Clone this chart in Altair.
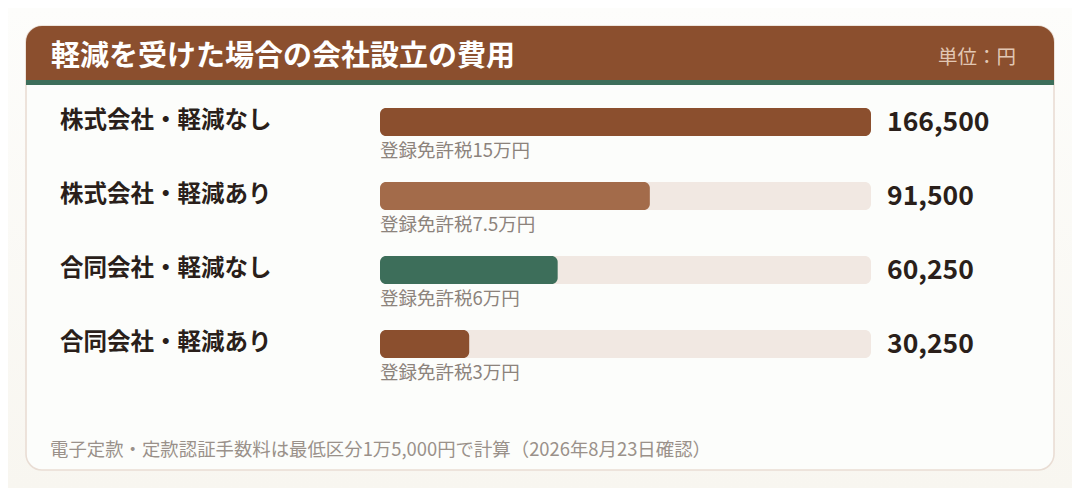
import altair as alt
import pandas as pd

# ---- data ----
categories = ["株式会社・軽減なし", "株式会社・軽減あり", "合同会社・軽減なし", "合同会社・軽減あり"]
values = [166500, 91500, 60250, 30250]
sub_labels = ["登録免許税15万円", "登録免許税7.5万円", "登録免許税6万円", "登録免許税3万円"]
bar_colors = ["#8B4F2E", "#A36B4A", "#3D6E5A", "#8B4F2E"]
title_text = "軽減を受けた場合の会社設立の費用"
unit_text = "単位：円"
footer_text = "電子定款・定款認証手数料は最低区分1万5,000円で計算（2026年8月23日確認）"

max_val = max(values)
FONT = "Noto Sans CJK JP"

df = pd.DataFrame({
    "cat": categories,
    "value": values,
    "sub": sub_labels,
    "color": bar_colors,
    "zero": [0] * len(values),
    "max": [max_val] * len(values),
})
one = pd.DataFrame({"d": [0]})

W, H = 1064, 480

xs = alt.Scale(domain=[0, max_val], range=[372, 863])
ys = alt.Scale(domain=categories, range=[77, 373], paddingInner=1 - 28 / 74, paddingOuter=(1 - 28 / 74) / 2)
Y = alt.Y("cat:N", scale=ys, axis=None, sort=categories)

deco = alt.Chart(one)

bg = deco.mark_rect(
    color=alt.Gradient(
        gradient="linear",
        stops=[alt.GradientStop(color="#FDFDFB", offset=0), alt.GradientStop(color="#F8F6F0", offset=1)],
        x1=0, x2=0, y1=0, y2=1,
    )
).encode(x=alt.value(0), x2=alt.value(W), y=alt.value(0), y2=alt.value(H))

card = deco.mark_rect(
    fill="#FCFDFB", stroke="#E9DDD4", strokeWidth=1.6, cornerRadius=16
).encode(x=alt.value(18), x2=alt.value(1046), y=alt.value(18), y2=alt.value(462))

header = deco.mark_rect(
    color="#8B4F2E", cornerRadiusTopLeft=16, cornerRadiusTopRight=16
).encode(x=alt.value(18), x2=alt.value(1046), y=alt.value(18), y2=alt.value(72))

stripe = deco.mark_rect(color="#3D6E5A").encode(
    x=alt.value(18), x2=alt.value(1046), y=alt.value(72), y2=alt.value(77)
)

title = deco.mark_text(
    text=title_text, font=FONT, fontSize=29, fontWeight="bold", color="#FFFFFF",
    align="left", baseline="middle"
).encode(x=alt.value(43), y=alt.value(49))

unit = deco.mark_text(
    text=unit_text, font=FONT, fontSize=19.5, color="#E2C7B4", align="right", baseline="middle"
).encode(x=alt.value(1008), y=alt.value(50))

base = alt.Chart(df)

track = base.mark_bar(cornerRadius=6, color="#F1E8E2").encode(
    x=alt.X("zero:Q", scale=xs, axis=None), x2="max:Q", y=Y
)

bars = base.mark_bar(cornerRadius=6).encode(
    x=alt.X("zero:Q", scale=xs, axis=None), x2="value:Q", y=Y,
    color=alt.Color("color:N", scale=None),
)

labels = base.mark_text(
    font=FONT, fontSize=23.5, fontWeight="bold", color="#2A1F1A", align="left", baseline="middle", dy=-1
).encode(x=alt.value(52), y=Y, text="cat:N")

subs = base.mark_text(
    font=FONT, fontSize=18.5, color="#8C837C", align="left", baseline="middle", dy=28.5
).encode(x=alt.X("zero:Q", scale=xs, axis=None), y=Y, text="sub:N")

vals = base.mark_text(
    font=FONT, fontSize=26.5, fontWeight="bold", color="#2A1F1A", align="left", baseline="middle", dx=16, dy=1
).encode(x=alt.X("max:Q", scale=xs, axis=None), y=Y, text=alt.Text("value:Q", format=","))

footer = deco.mark_text(
    text=footer_text, font=FONT, fontSize=18.4, color="#9A918A", align="left", baseline="middle"
).encode(x=alt.value(42), y=alt.value(442))

chart = alt.layer(
    bg, card, header, stripe, title, unit, track, bars, labels, subs, vals, footer
).properties(
    width=W, height=H, padding=0, autosize=alt.AutoSizeParams(type="none")
).configure_view(stroke=None)

chart.save("out.html", embed_options={"renderer": "svg", "actions": False})
